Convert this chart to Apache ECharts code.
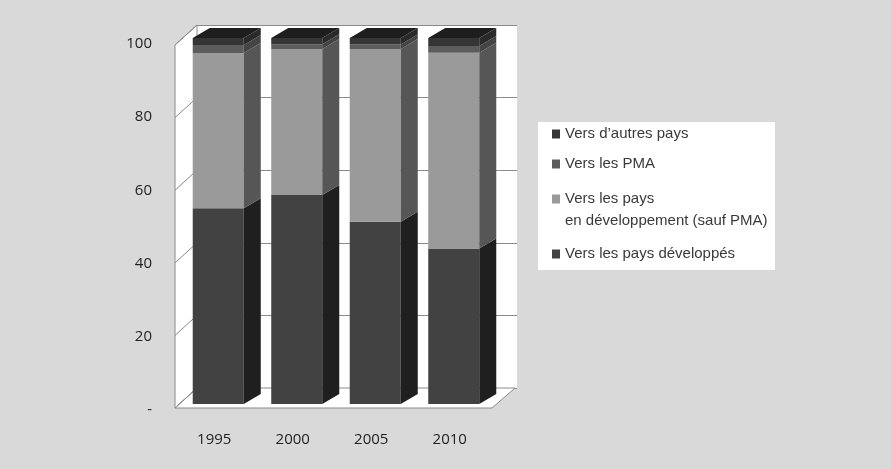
<!DOCTYPE html>
<html>
<head>
<meta charset="utf-8">
<script src="https://cdn.jsdelivr.net/npm/echarts@6/dist/echarts.min.js"></script>
<style>
html, body { margin: 0; padding: 0; background: #d9d9d9; }
#chart { width: 891px; height: 469px; }
</style>
</head>
<body>
<div id="chart"></div>
<script>
// données (en %)
var years = ['1995', '2000', '2005', '2010'];
var developpes = [53.5, 57.1, 49.8, 42.5];
var enDev = [42.4, 39.9, 47.2, 53.5];
var pma = [2.2, 1.3, 1.2, 1.8];
var autres = [1.9, 1.7, 1.8, 2.2];
var yTicks = [0, 20, 40, 60, 80, 100];

var noms = ['Vers les pays développés', 'Vers les pays\nen développement (sauf PMA)', 'Vers les PMA', 'Vers d\u2019autres pays'];
var valeurs = [developpes, enDev, pma, autres];
// face avant / face de côté
var couleurs = [
    {front: '#424242', side: '#1f1f1f'},
    {front: '#9a9a9a', side: '#565656'},
    {front: '#5c5c5c', side: '#444444'},
    {front: '#353535', side: '#2a2a2a'}
];
var dx = 17, dy = 10; // profondeur des barres

// empilement
var bases = [0, 0, 0, 0];
var seriesList = [];
for (var s = 0; s < valeurs.length; s++) {
    var data = [];
    for (var i = 0; i < years.length; i++) {
        data.push([i, bases[i], bases[i] + valeurs[s][i]]);
        bases[i] += valeurs[s][i];
    }
    seriesList.push(makeSeries(noms[s], couleurs[s], data, s === valeurs.length - 1));
}

function makeSeries(name, col, data, isTop) {
    return {
        name: name,
        type: 'custom',
        xAxisIndex: 0,
        yAxisIndex: 0,
        itemStyle: {color: col.front},
        data: data,
        renderItem: function (params, api) {
            var cat = api.value(0);
            var pt = api.coord([cat, api.value(2)]);
            var pb = api.coord([cat, api.value(1)]);
            var w = api.size([1, 0])[0] * 0.65;
            var xl = pt[0] - w / 2, xr = pt[0] + w / 2;
            var yt = pt[1], yb = pb[1];
            var children = [
                {type: 'rect', shape: {x: xl, y: yt, width: w, height: yb - yt}, style: {fill: col.front}},
                {type: 'polygon', shape: {points: [[xr, yt], [xr + dx, yt - dy], [xr + dx, yb - dy], [xr, yb]]}, style: {fill: col.side}}
            ];
            if (isTop) {
                children.push({type: 'polygon', shape: {points: [[xl, yt], [xl + dx, yt - dy], [xr + dx, yt - dy], [xr, yt]]}, style: {fill: '#1e1e1e'}});
            }
            return {type: 'group', children: children};
        }
    };
}

// murs et sol (décor 3D)
var fx = 175, bx = 197, fy0 = 408, by0 = 388, k = 3.63;
var decor = [
    {type: 'rect', shape: {x: 538, y: 122, width: 237, height: 148}, style: {fill: '#fff'}, z: 0},
    {type: 'polygon', shape: {points: [[fx, fy0 - 100 * k], [bx, by0 - 100 * k], [bx, by0], [fx, fy0]]}, style: {fill: '#fff', stroke: '#8a8a8a', lineWidth: 1}, z: 1},
    {type: 'polygon', shape: {points: [[fx, fy0], [bx, by0], [515, by0], [492, fy0]]}, style: {fill: '#fff', stroke: '#8a8a8a', lineWidth: 1}, z: 1}
];
yTicks.forEach(function (v) {
    decor.push({type: 'line', shape: {x1: fx, y1: fy0 - v * k, x2: bx, y2: by0 - v * k}, style: {stroke: '#8a8a8a', lineWidth: 1}, z: 1});
});

var legendTxt = {color: '#3a3a3a', fontFamily: 'Liberation Sans', fontSize: 15};
function leg(name, top, extra) {
    var l = {
        data: [name], orient: 'vertical', left: 552, top: top, padding: 0,
        selectedMode: false, icon: 'rect', itemWidth: 8, itemHeight: 9,
        itemStyle: {borderWidth: 0},
        textStyle: Object.assign({lineHeight: 18}, legendTxt)
    };
    return Object.assign(l, extra || {});
}

var dom = document.getElementById('chart');
var myChart = echarts.init(dom);
var option = {
    backgroundColor: '#d9d9d9',
    animation: false,
    grid: [
        {left: 179, top: 38, width: 314, height: 366},
        {left: 197, top: 25, width: 320, height: 363, show: true, backgroundColor: '#fff', borderWidth: 0}
    ],
    xAxis: [
        {
            type: 'category', gridIndex: 0, data: years,
            axisLine: {show: false}, axisTick: {show: false},
            axisLabel: {margin: 28, color: '#222', fontFamily: 'Open Sans', fontSize: 15, padding: [0, 8, 0, 0]}
        },
        {type: 'category', gridIndex: 1, data: years, show: false}
    ],
    yAxis: [
        {
            type: 'value', gridIndex: 0, min: 0, max: 100, interval: 20,
            axisLine: {show: false}, axisTick: {show: false}, splitLine: {show: false},
            axisLabel: {
                margin: 27, color: '#222', fontFamily: 'Open Sans', fontSize: 15,
                verticalAlign: 'top', lineHeight: 12,
                formatter: function (v) { return v === 0 ? '-' : v; }
            }
        },
        {
            type: 'value', gridIndex: 1, min: 0, max: 100, interval: 20,
            axisLine: {show: false}, axisTick: {show: false}, axisLabel: {show: false},
            splitLine: {show: true, lineStyle: {color: '#8a8a8a', width: 1}}
        }
    ],
    legend: [
        leg(noms[3], 125),
        leg(noms[2], 155),
        leg(noms[1], 188, {icon: 'path://M0,0H8V9H0Z M0,31H8', itemHeight: 31, textStyle: Object.assign({lineHeight: 22}, legendTxt)}),
        leg(noms[0], 245)
    ],
    graphic: decor,
    series: seriesList
};
if (option && typeof option === "object") {
    myChart.setOption(option, true);
}
</script>
</body>
</html>
